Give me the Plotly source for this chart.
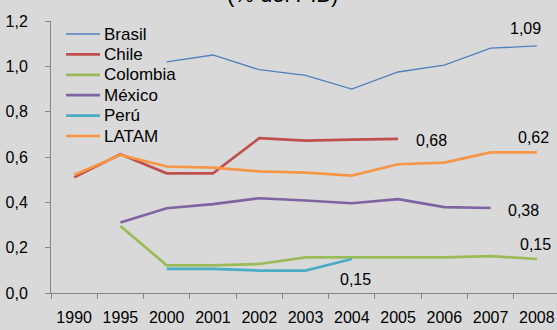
import plotly.graph_objects as go

years = ["1990", "1995", "2000", "2001", "2002", "2003", "2004", "2005", "2006", "2007", "2008"]

brasil   = [None, None, 1.02, 1.05, 0.985, 0.96, 0.90, 0.975, 1.005, 1.08, 1.09]
chile    = [0.51, 0.612, 0.528, 0.528, 0.683, 0.672, 0.677, 0.68, None, None, None]
colombia = [None, 0.296, 0.122, 0.122, 0.128, 0.157, 0.157, 0.157, 0.157, 0.163, 0.15]
mexico   = [None, 0.311, 0.374, 0.392, 0.418, 0.408, 0.396, 0.414, 0.379, 0.375, None]
peru     = [None, None, 0.106, 0.106, 0.099, 0.099, 0.15, None, None, None, None]
latam    = [0.521, 0.609, 0.558, 0.553, 0.537, 0.531, 0.518, 0.568, 0.575, 0.62, 0.62]

series_names = ["Brasil", "Chile", "Colombia", "México", "Perú", "LATAM"]
series_vals = [brasil, chile, colombia, mexico, peru, latam]
colors = ["#4F81BD", "#C0504D", "#9BBB59", "#8064A2", "#4BACC6", "#F79646"]
widths = [1.3, 2.7, 2.7, 2.7, 2.7, 2.7]

# end-value labels: (series index, category, text)
label_series = [0, 1, 5, 3, 2, 4]
label_years = ["2008", "2005", "2008", "2007", "2008", "2004"]
label_texts = ["1,09", "0,68", "0,62", "0,38", "0,15", "0,15"]

title_text = "(% del PIB)"

W, H = 557, 330
ML, MR, MT, MB = 51, 0, 21, 37
PW, PH = W - ML - MR, H - MT - MB


def px_x(px):
    return (px - ML) / PW


def px_y(py):
    return (H - MB - py) / PH


font = "Liberation Sans, Arial, sans-serif"

fig = go.Figure()
for name, vals, c, w in zip(series_names, series_vals, colors, widths):
    fig.add_trace(go.Scatter(x=years, y=vals, name=name, mode="lines",
                             line=dict(color=c, width=w), connectgaps=False,
                             showlegend=False))

# value labels, offsets in pixels (xshift, yshift)
offsets = [(-11, 17), (33, -2), (-3, 15), (33, -2), (-1, 15), (4, -20)]
for si, yr, txt, (dx, dy) in zip(label_series, label_years, label_texts, offsets):
    idx = years.index(yr)
    yv = series_vals[si][idx]
    fig.add_annotation(x=idx, y=yv, text=txt, showarrow=False, xref="x", yref="y",
                       xshift=dx, yshift=dy, font=dict(size=16, color="#000000", family=font))

# legend (drawn as line samples + text)
leg_y0, leg_dy = 34, 20.4
for i, (name, c, w) in enumerate(zip(series_names, colors, widths)):
    yy = px_y(leg_y0 + i * leg_dy)
    fig.add_shape(type="line", xref="paper", yref="paper",
                  x0=px_x(66), x1=px_x(100), y0=yy, y1=yy,
                  line=dict(color=c, width=w))
    fig.add_annotation(x=px_x(102), y=yy, xref="paper", yref="paper", text=name,
                       showarrow=False, xanchor="left", yanchor="middle",
                       font=dict(size=17, color="#000000", family=font))

fig.add_annotation(x=px_x(282), y=px_y(9), xref="paper", yref="paper",
                   text=title_text, showarrow=False, yanchor="bottom",
                   font=dict(size=22, color="#000000", family=font))

fig.update_layout(
    width=W, height=H,
    margin=dict(l=ML, r=MR, t=MT, b=MB, autoexpand=False),
    paper_bgcolor="#D9D9D9", plot_bgcolor="#D9D9D9",
    separators=",.",
    font=dict(family=font, size=16, color="#000000"),
    showlegend=False,
    xaxis=dict(type="category", range=[-0.5, 10.435], showgrid=False,
               showline=True, linecolor="#868686", linewidth=1,
               ticks="outside", ticklen=5, tickcolor="#868686", tickson="boundaries",
               ticklabelstandoff=10, tickfont=dict(size=16), zeroline=False),
    yaxis=dict(range=[0, 1.2], dtick=0.2, tickformat=".1f", showgrid=False,
               showline=True, linecolor="#868686", linewidth=1,
               ticks="outside", ticklen=5, tickcolor="#868686",
               ticklabelstandoff=14, tickfont=dict(size=16), zeroline=False),
)

fig.write_html("out.html", config={"displayModeBar": False},
               post_script="document.body.style.margin='0';document.body.style.overflow='hidden';")
